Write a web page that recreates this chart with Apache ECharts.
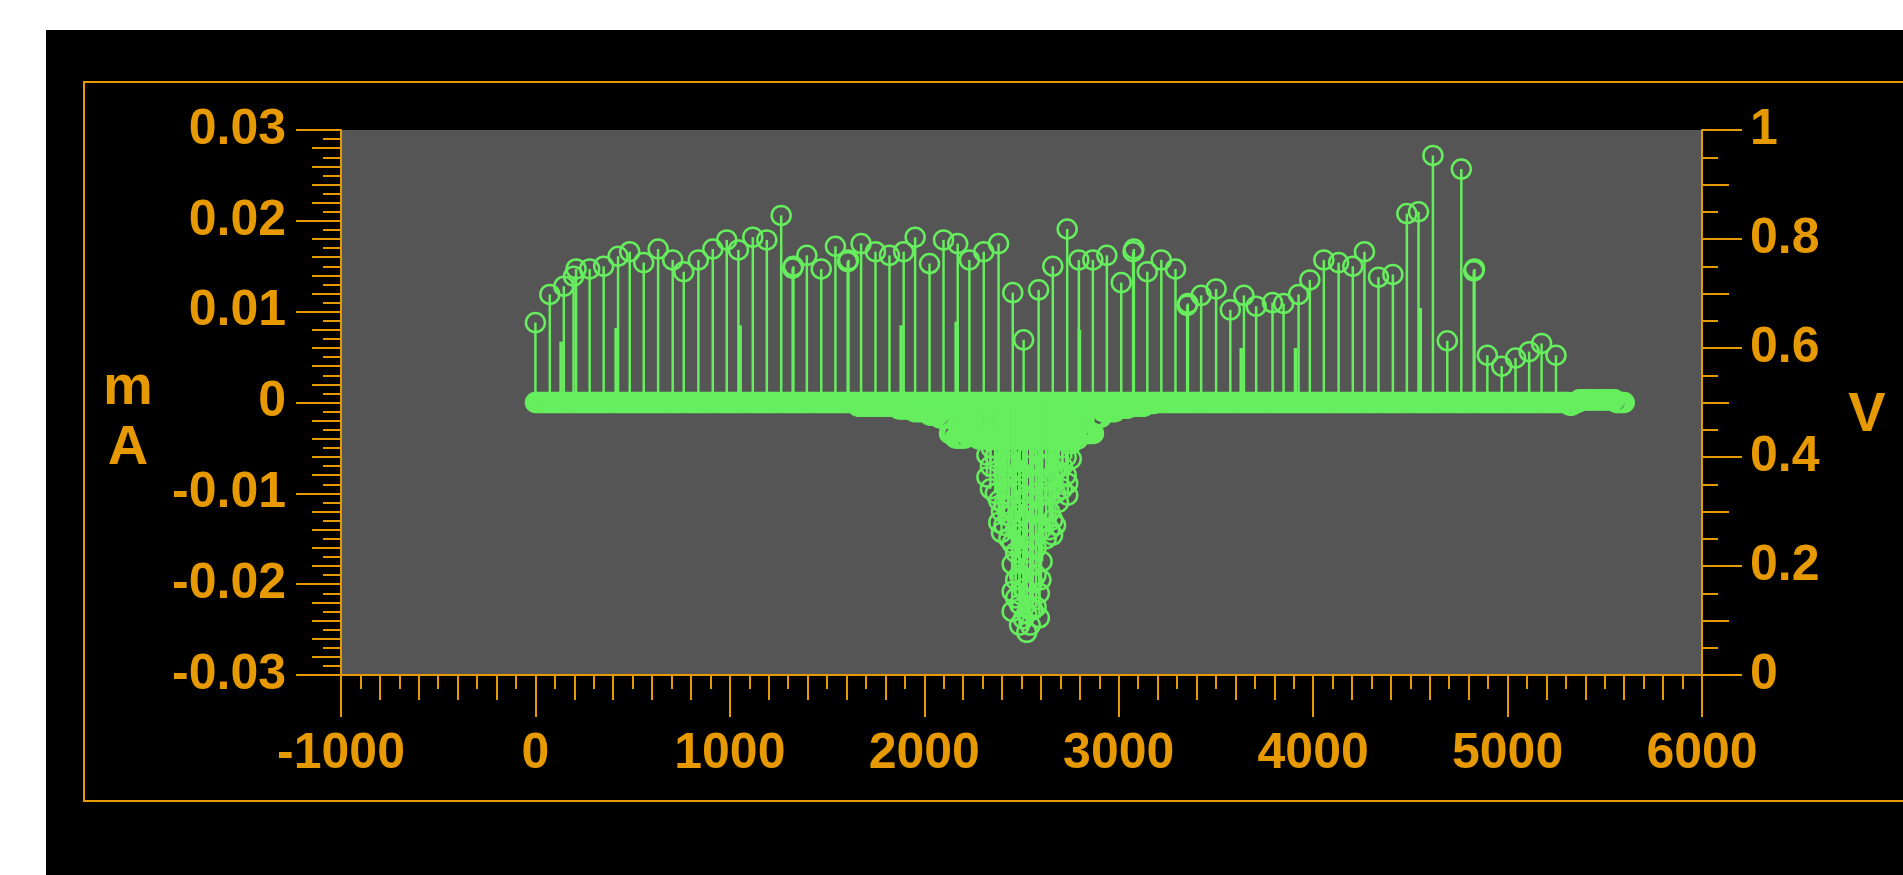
<!DOCTYPE html>
<html>
<head>
<meta charset="utf-8">
<script src="https://cdn.jsdelivr.net/npm/echarts@6/dist/echarts.min.js"></script>
<style>
html,body{margin:0;padding:0;background:#ffffff;overflow:hidden}
#c{width:1903px;height:875px}
</style>
</head>
<body>
<div id="c"></div>
<script>
// ---------------- data ----------------
// positive stems with circle markers: sample position and current (mA)
const spikeX = [0, 74, 146, 196, 209, 279, 351, 425, 485, 557, 631, 706, 763, 838, 912, 984, 1044, 1118, 1190,
  1264, 1323, 1327, 1396, 1470, 1543, 1606, 1610, 1675, 1749, 1821, 1894, 1953, 2027, 2099, 2172, 2232, 2306, 2382,
  2455, 2511, 2588, 2661, 2735, 2795, 2867, 2939, 3013, 3074, 3078, 3147, 3219, 3292, 3352, 3356, 3424, 3501, 3574,
  3644, 3707, 3791, 3848, 3925, 3983, 4055, 4131, 4204, 4264, 4336, 4410, 4482, 4542, 4616, 4690, 4762, 4826, 4830,
  4896, 4970, 5041, 5111, 5175, 5249];
const spikeV = [0.0088, 0.0119, 0.0128, 0.0139, 0.0147, 0.0147, 0.0150, 0.0161, 0.0166, 0.0154, 0.0169, 0.0157, 0.0144, 0.0157, 0.0169, 0.0179, 0.0168, 0.0182, 0.0179,
  0.0206, 0.0148, 0.0150, 0.0162, 0.0147, 0.0172, 0.0155, 0.0157, 0.0175, 0.0166, 0.0162, 0.0166, 0.0182, 0.0153, 0.0179, 0.0175, 0.0157, 0.0166, 0.0175,
  0.0121, 0.0069, 0.0124, 0.0150, 0.0191, 0.0157, 0.0157, 0.0162, 0.0132, 0.0166, 0.0169, 0.0144, 0.0157, 0.0147, 0.0107, 0.0109, 0.0118, 0.0125, 0.0102,
  0.0118, 0.0106, 0.0110, 0.0109, 0.0119, 0.0135, 0.0157, 0.0154, 0.0150, 0.0166, 0.0138, 0.0141, 0.0208, 0.0210, 0.0272, 0.0068, 0.0257, 0.0145, 0.0147,
  0.0052, 0.0040, 0.0049, 0.0056, 0.0065, 0.0052];

// stems without a visible marker
const bareX = [132, 415, 1053, 1881, 2164, 2798, 3630, 3909, 4551];
const bareV = [0.0067, 0.0082, 0.0085, 0.0085, 0.0089, 0.0080, 0.0060, 0.0060, 0.0104];

// negative cluster of circles
const blobX = [2322, 2322, 2340, 2340, 2345, 2365, 2365, 2383, 2383, 2397, 2397,
  2410, 2410, 2410, 2421, 2421, 2435, 2435, 2435,
  2452, 2452, 2452, 2452, 2470, 2470, 2470, 2470, 2470,
  2490, 2490, 2490, 2490, 2490, 2510, 2510, 2510, 2510, 2510,
  2527, 2527, 2527, 2527, 2527, 2545, 2545, 2545, 2545, 2545,
  2558, 2558, 2558, 2558, 2575, 2575, 2575, 2575, 2592, 2592, 2600, 2600, 2600, 2606, 2606,
  2627, 2627, 2627, 2645, 2645, 2645, 2660, 2660, 2660, 2675, 2675, 2675, 2690, 2690, 2710, 2710,
  2730, 2730, 2738, 2738, 2756, 2756];
const blobV = [-0.0058, -0.0082, -0.0070, -0.0095, -0.0050, -0.0060, -0.0100, -0.0108, -0.0132, -0.0143, -0.0120,
  -0.0080, -0.0112, -0.0135, -0.0065, -0.0095, -0.0070, -0.0125, -0.0150,
  -0.0155, -0.0178, -0.0208, -0.0230, -0.0100, -0.0140, -0.0165, -0.0195, -0.0215,
  -0.0075, -0.0125, -0.0190, -0.0222, -0.0245, -0.0090, -0.0150, -0.0175, -0.0205, -0.0238,
  -0.0253, -0.0232, -0.0165, -0.0105, -0.0060, -0.0070, -0.0120, -0.0180, -0.0215, -0.0245,
  -0.0085, -0.0140, -0.0198, -0.0228, -0.0100, -0.0160, -0.0190, -0.0225, -0.0237, -0.0210, -0.0070, -0.0140, -0.0195, -0.0175, -0.0120,
  -0.0068, -0.0100, -0.0150, -0.0085, -0.0120, -0.0140, -0.0129, -0.0146, -0.0080, -0.0075, -0.0100, -0.0135, -0.0110, -0.0060, -0.0070, -0.0095,
  -0.0060, -0.0080, -0.0102, -0.0089, -0.0062, -0.0045];

// slightly negative samples forming the sagging underside of the zero band (one every dipStep from dipStart)
const dipStart = 1660;
const dipStep = 10;
const dipV = [
  -0.0004,-0.0004,-0.0004,-0.0004,-0.0004,-0.0004,-0.0004,-0.0004,-0.0004,-0.0004,
  -0.0004,-0.0004,-0.0004,-0.0004,-0.0004,-0.0004,-0.0004,-0.0004,-0.0004,-0.0004,-0.0004,
  -0.0007,-0.0007,-0.0007,-0.0007,-0.0007,-0.0007,-0.0007,-0.0007,
  -0.0010,-0.0010,-0.0010,-0.0010,-0.0010,-0.0010,-0.0010,-0.0010,
  -0.0014,-0.0014,-0.0014,-0.0014,-0.0014,
  -0.0017,-0.0017,-0.0017,-0.0017,-0.0017,
  -0.0034,-0.0034,-0.0034,
  -0.0039,-0.0039,-0.0039,-0.0039,-0.0039,-0.0039,
  -0.0036,-0.0036,-0.0036,-0.0036,-0.0036,-0.0036,
  -0.0040,-0.0040,-0.0040,-0.0040,-0.0040,-0.0040,-0.0040,-0.0040,-0.0040,-0.0040,
  -0.0040,-0.0040,-0.0040,-0.0040,-0.0040,-0.0040,-0.0040,-0.0040,-0.0040,-0.0040,
  -0.0040,-0.0040,-0.0040,-0.0040,-0.0040,-0.0040,-0.0040,-0.0040,-0.0040,-0.0040,
  -0.0040,-0.0040,-0.0040,-0.0040,-0.0040,-0.0040,-0.0040,-0.0040,-0.0040,-0.0040,
  -0.0040,-0.0040,-0.0040,-0.0040,-0.0040,-0.0040,-0.0040,-0.0040,-0.0040,-0.0040,
  -0.0040,-0.0040,
  -0.0034,-0.0034,-0.0034,-0.0034,-0.0034,-0.0034,-0.0034,-0.0034,
  -0.0016,-0.0016,-0.0016,-0.0016,
  -0.0010,-0.0010,-0.0010,-0.0010,-0.0010,-0.0010,-0.0010,
  -0.0006,-0.0006,-0.0006,-0.0006,-0.0006,-0.0006,-0.0006,
  -0.0004,-0.0004,-0.0004,-0.0004,-0.0004,-0.0004,-0.0004,-0.0004,
  -0.0001,-0.0001,-0.0001,-0.0001,-0.0001
];

// near-zero samples, one every baseStep starting at 0 (0 ... 5600)
const baseStep = 10;
const baseV = [
  0,0,0,0,0,0,0,0,0,0, 0,0,0,0,0,0,0,0,0,0, 0,0,0,0,0,0,0,0,0,0, 0,0,0,0,0,0,0,0,0,0,
  0,0,0,0,0,0,0,0,0,0, 0,0,0,0,0,0,0,0,0,0, 0,0,0,0,0,0,0,0,0,0, 0,0,0,0,0,0,0,0,0,0,
  0,0,0,0,0,0,0,0,0,0, 0,0,0,0,0,0,0,0,0,0, 0,0,0,0,0,0,0,0,0,0, 0,0,0,0,0,0,0,0,0,0,
  0,0,0,0,0,0,0,0,0,0, 0,0,0,0,0,0,0,0,0,0, 0,0,0,0,0,0,0,0,0,0, 0,0,0,0,0,0,0,0,0,0,
  0,0,0,0,0,0,0,0,0,0, 0,0,0,0,0,0,0,0,0,0, 0,0,0,0,0,0,0,0,0,0, 0,0,0,0,0,0,0,0,0,0,
  0,0,0,0,0,0,0,0,0,0, 0,0,0,0,0,0,0,0,0,0, 0,0,0,0,0,0,0,0,0,0, 0,0,0,0,0,0,0,0,0,0,
  0,0,0,0,0,0,0,0,0,0, 0,0,0,0,0,0,0,0,0,0, 0,0,0,0,0,0,0,0,0,0, 0,0,0,0,0,0,0,0,0,0,
  0,0,0,0,0,0,0,0,0,0, 0,0,0,0,0,0,0,0,0,0, 0,0,0,0,0,0,0,0,0,0, 0,0,0,0,0,0,0,0,0,0,
  0,0,0,0,0,0,0,0,0,0, 0,0,0,0,0,0,0,0,0,0, 0,0,0,0,0,0,0,0,0,0, 0,0,0,0,0,0,0,0,0,0,
  0,0,0,0,0,0,0,0,0,0, 0,0,0,0,0,0,0,0,0,0, 0,0,0,0,0,0,0,0,0,0, 0,0,0,0,0,0,0,0,0,0,
  0,0,0,0,0,0,0,0,0,0, 0,0,0,0,0,0,0,0,0,0, 0,0,0,0,0,0,0,0,0,0, 0,0,0,0,0,0,0,0,0,0,
  0,0,0,0,0,0,0,0,0,0, 0,0,0,0,0,0,0,0,0,0, 0,0,0,0,0,0,0,0,0,0, 0,0,0,0,0,0,0,0,0,0,
  0,0,0,0,0,0,0,0,0,0, 0,0,0,0,0,0,0,0,0,0, 0,0,0,0,0,0,0,0,0,0, 0,0,0,0,0,0,0,0,0,0,
  0,0,0,0,0,0,0,0,0,0, 0,0,-0.0003,-0.0003,0,0,0,0.0003,0.0003,0.0003,
  0.0003,0.0003,0.0003,0.0003,0.0003,0.0003,0.0003,0.0003,0.0003,0.0003, 0.0003,0.0003,0.0003,0.0003,0.0003,0.0003,0,0,0,0,
  0
];

// ---------------- styling ----------------
const ORANGE = '#e69900';
const GREEN = '#66ee5e';
const FONT = 'Liberation Sans, Arial, sans-serif';

const stemPoints = [];
baseV.forEach((v, i) => stemPoints.push([i * baseStep, v]));
dipV.forEach((v, i) => stemPoints.push([dipStart + i * dipStep, v]));
blobX.forEach((x, i) => stemPoints.push([x, blobV[i]]));
spikeX.forEach((x, i) => stemPoints.push([x, spikeV[i]]));
const barePoints = bareX.map((x, i) => [x, bareV[i]]);

function stemItem(params, api) {
  const x = api.value(0), v = api.value(1);
  const p0 = api.coord([x, 0]);
  const p1 = api.coord([x, v]);
  return {
    type: 'group',
    children: [
      { type: 'line', shape: { x1: p0[0], y1: p0[1], x2: p1[0], y2: p1[1] },
        style: { stroke: GREEN, lineWidth: 2.5 } },
      { type: 'circle', shape: { cx: p1[0], cy: p1[1], r: 9.5 },
        style: { stroke: GREEN, fill: 'none', lineWidth: 2.5 } }
    ]
  };
}
function bareItem(params, api) {
  const x = api.value(0), v = api.value(1);
  const p0 = api.coord([x, 0]);
  const p1 = api.coord([x, v]);
  return { type: 'line', shape: { x1: p0[0], y1: p0[1], x2: p1[0], y2: p1[1] },
    style: { stroke: GREEN, lineWidth: 3.5 } };
}

const lineSt = { color: ORANGE, width: 2 };
const labelSt = { color: ORANGE, fontSize: 50, fontWeight: 'bold', fontFamily: FONT };
const nameRich = {
  g: { fontSize: 10, lineHeight: 32 },
  t: { color: ORANGE, fontSize: 56, fontWeight: 'bold', fontFamily: FONT, lineHeight: 60 }
};
const nameRichV = {
  g: { fontSize: 10, lineHeight: 26 },
  t: { color: ORANGE, fontSize: 56, fontWeight: 'bold', fontFamily: FONT, lineHeight: 60 }
};
const noSplit = { show: false };

const chart = echarts.init(document.getElementById('c'), null, { renderer: 'canvas' });
chart.setOption({
  animation: false,
  backgroundColor: 'transparent',
  graphic: [
    { type: 'rect', z: -100, silent: true, shape: { x: 46, y: 30, width: 1900, height: 900 }, style: { fill: '#000000' } },
    { type: 'rect', z: -99, silent: true, shape: { x: 84, y: 82, width: 1900, height: 719 }, style: { fill: 'none', stroke: ORANGE, lineWidth: 2 } }
  ],
  grid: { left: 341, top: 130, width: 1361, height: 545, show: true, backgroundColor: '#555555', borderWidth: 0, containLabel: false, outerBoundsMode: 'none' },
  xAxis: [
    { type: 'value', min: -1000, max: 6000, interval: 1000, position: 'bottom',
      axisLine: { show: true, onZero: false, lineStyle: lineSt },
      axisTick: { show: true, inside: false, length: 42, lineStyle: lineSt },
      minorTick: { show: true, splitNumber: 10, length: 14, lineStyle: lineSt },
      axisLabel: Object.assign({ show: true, margin: 54, formatter: v => String(v) }, labelSt),
      splitLine: noSplit, minorSplitLine: noSplit },
    { type: 'value', min: -1000, max: 6000, interval: 200, position: 'bottom', offset: 0,
      axisLine: { show: false, onZero: false },
      axisTick: { show: true, inside: false, length: 25, lineStyle: lineSt },
      axisLabel: { show: false }, splitLine: noSplit }
  ],
  yAxis: [
    { type: 'value', min: -0.03, max: 0.03, interval: 0.01, position: 'left',
      name: '{g| }\n{t|m}\n{t|A}', nameLocation: 'middle', nameRotate: 0, nameGap: 213, nameMoveOverlap: false,
      nameTextStyle: { color: ORANGE, align: 'center', verticalAlign: 'middle', rich: nameRich },
      axisLine: { show: true, onZero: false, lineStyle: lineSt },
      axisTick: { show: true, inside: false, length: 45, lineStyle: lineSt },
      minorTick: { show: true, splitNumber: 10, length: 18, lineStyle: lineSt },
      axisLabel: Object.assign({ show: true, margin: 55 }, labelSt),
      splitLine: noSplit, minorSplitLine: noSplit },
    { type: 'value', min: 0, max: 1, interval: 0.2, position: 'right',
      name: '{g| }\n{t|V}', nameLocation: 'middle', nameRotate: 0, nameGap: 165, nameMoveOverlap: false,
      nameTextStyle: { color: ORANGE, align: 'center', verticalAlign: 'middle', rich: nameRichV },
      axisLine: { show: true, onZero: false, lineStyle: lineSt },
      axisTick: { show: true, inside: false, length: 40, lineStyle: lineSt },
      minorTick: { show: true, splitNumber: 4, length: 16, lineStyle: lineSt },
      axisLabel: Object.assign({ show: true, margin: 48 }, labelSt),
      splitLine: noSplit, minorSplitLine: noSplit },
    { type: 'value', min: -0.03, max: 0.03, interval: 0.002, position: 'left', offset: 0,
      axisLine: { show: false, onZero: false },
      axisTick: { show: true, inside: false, length: 29, lineStyle: lineSt },
      axisLabel: { show: false }, splitLine: noSplit },
    { type: 'value', min: 0, max: 1, interval: 0.1, position: 'right', offset: 0,
      axisLine: { show: false, onZero: false },
      axisTick: { show: true, inside: false, length: 27, lineStyle: lineSt },
      axisLabel: { show: false }, splitLine: noSplit }
  ],
  series: [
    { type: 'custom', name: 'bare', xAxisIndex: 0, yAxisIndex: 0, silent: true, clip: true,
      renderItem: bareItem, data: barePoints },
    { type: 'custom', name: 'current', xAxisIndex: 0, yAxisIndex: 0, silent: true, clip: true,
      renderItem: stemItem, data: stemPoints }
  ]
});
</script>
</body>
</html>
